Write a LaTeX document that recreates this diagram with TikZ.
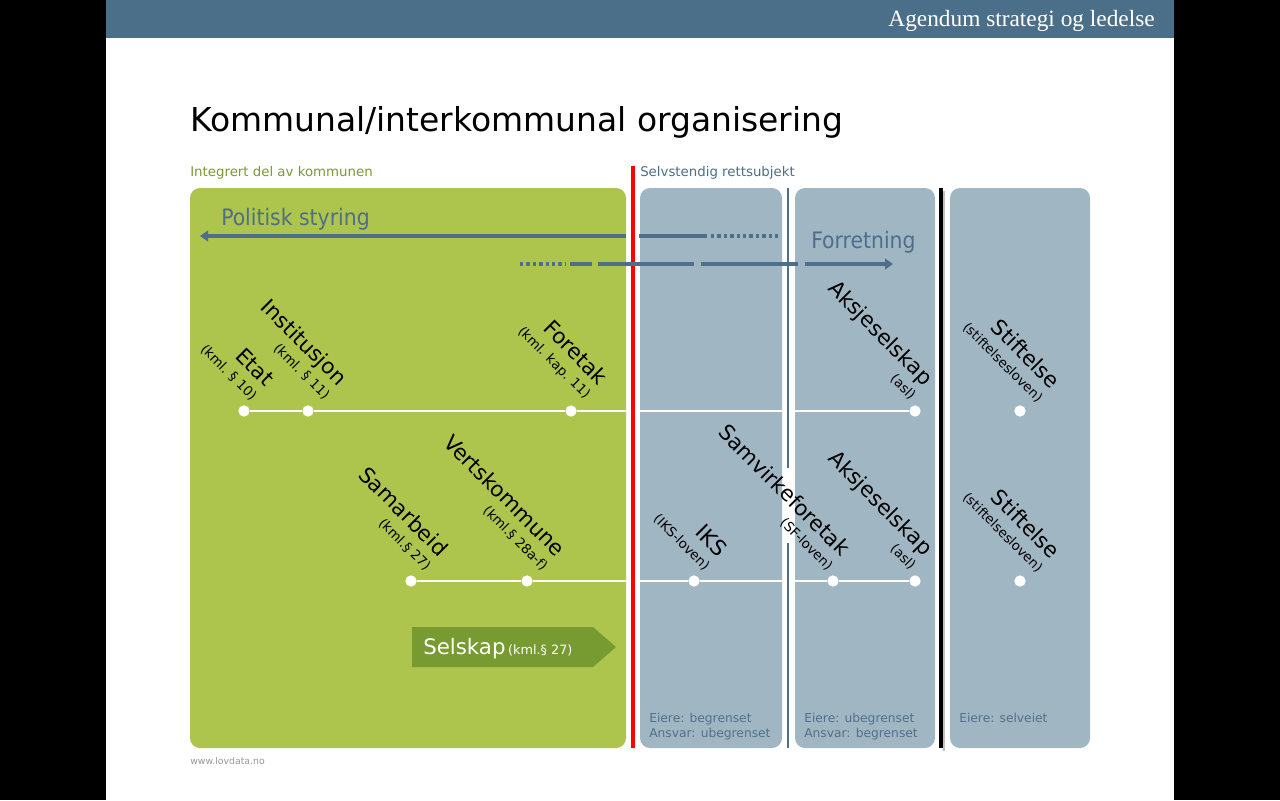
\documentclass[tikz,border=0pt]{standalone}
\usepackage{fontspec}
\setmainfont{DejaVu Sans}
\newfontfamily\condfont{DejaVu Sans Condensed}
\newfontfamily\headfont{Liberation Serif}
\usetikzlibrary{arrows.meta}

\definecolor{headblue}{HTML}{4B6F88}
\definecolor{flowblue}{HTML}{4E6E8A}
\definecolor{boxgreen}{HTML}{AEC54D}
\definecolor{selgreen}{HTML}{779A31}
\definecolor{boxgray}{HTML}{A1B6C3}
\definecolor{textgreen}{HTML}{7A9A34}
\definecolor{notegray}{HTML}{52708A}

\newcommand{\sublbl}{\fontsize{10}{12}\selectfont}

\begin{document}
\begin{tikzpicture}[x=0.75pt, y=-0.75pt,
  dot/.style={circle, fill=white, inner sep=0pt, minimum size=8.5pt},
  tline/.style={white, line width=1.1pt},
  lbl/.style={rotate=-45, anchor=south east, inner sep=0pt, align=right, font=\fontsize{16}{14.5}\selectfont},
  flow/.style={flowblue, line width=2.6pt, -{Triangle[length=6pt, width=8pt]}},
  flowline/.style={flowblue, line width=2.6pt},
  flowdot/.style={flowblue, line width=2.6pt, dash pattern=on 2.6pt off 2.2pt},
  panel/.style={rounded corners=7.5pt},
  note/.style={anchor=base west, inner sep=0pt, align=left, text=notegray, font=\fontsize{9.2}{11.2}\selectfont}]
%%%%%%%%%%%%%%%%%%%%%%%%%%%%%%%%%%%%%%%%%%% HELP LINES
%\draw[help lines] (0,0) grid[step=100] (1280,800);

%%%%%%%%%%%%%%%%%%%%%%%%%%%%%%%%%%%%%%%%%%% slide
\fill[black] (0,0) rectangle (1280,800);
\fill[white] (106,0) rectangle (1174,800);
\fill[headblue] (106,0) rectangle (1174,38);
\node[anchor=base east, inner sep=0pt, text=white, font=\headfont\fontsize{17.5}{20}\selectfont](agendum) at (1155,26){Agendum strategi og ledelse};

\node[anchor=base west, inner sep=0pt, font=\fontsize{24.7}{30}\selectfont](title) at (190,131){Kommunal/interkommunal organisering};
\node[anchor=base west, inner sep=0pt, text=textgreen, font=\fontsize{10}{12}\selectfont](integrert) at (190,176){Integrert del av kommunen};
\node[anchor=base west, inner sep=0pt, text=headblue, font=\fontsize{10}{12}\selectfont](selvstendig) at (640,176){Selvstendig rettsubjekt};
\node[anchor=base west, inner sep=0pt, text=black!40, font=\fontsize{7}{8}\selectfont](lovdata) at (190,764){www.lovdata.no};

%%%%%%%%%%%%%%%%%%%%%%%%%%%%%%%%%%%%%%%%%%% panels
\fill[boxgreen, panel] (190,188) rectangle (626,748);
\fill[boxgray, panel] (640,188) rectangle (782,748);
\fill[boxgray, panel] (795,188) rectangle (935,748);
\fill[boxgray, panel] (950,188) rectangle (1090,748);

%%%%% time lines and dots
\node[dot](etat) at (244,411){};
\node[dot](institusjon) at (308,411){};
\node[dot](foretak) at (571,411){};
\node[dot](asa1) at (915,411){};
\node[dot](stiftelse1) at (1020,411){};
\node[dot](samarbeid) at (411,581){};
\node[dot](vertskommune) at (527,581){};
\node[dot](iks) at (694,581){};
\node[dot](samvirke) at (833,581){};
\node[dot](asa2) at (915,581){};
\node[dot](stiftelse2) at (1020,581){};
\draw[tline] (etat) -- (institusjon) -- (foretak) -- (asa1);
\draw[tline] (samarbeid) -- (vertskommune) -- (iks) -- (samvirke) -- (asa2);

%%%%% borders
\draw[red, line width=2.6pt] (633,166) -- (633,748);
\draw[flowblue, line width=1.9pt] (788,188) -- (788,468);
\draw[flowblue, line width=1.9pt] (788,543) -- (788,748);
\draw[black!25, line width=2pt] (944,191) -- (944,751);
\draw[black, line width=3pt] (941,188) -- (941,748);

%%%%% steering arrows
\node[anchor=base west, inner sep=0pt, text=flowblue, font=\fontsize{17}{20}\condfont](politisk) at (221,225){Politisk styring};
\node[anchor=base west, inner sep=0pt, text=flowblue, font=\fontsize{17}{20}\condfont](forretning) at (811,248){Forretning};

\coordinate (polfrom) at (626,236);
\coordinate (polto) at (200,236);
\draw[flow] (polfrom) -- (polto);
\draw[flowline] (639,236) -- (707,236);
\draw[flowdot] (711,236) -- (778,236);

\coordinate (forfrom) at (805,264);
\coordinate (forto) at (893,264);
\draw[flowdot] (520,264) -- (565,264);
\draw[flowline] (570,264) -- (592,264);
\draw[flowline] (598,264) -- (694,264);
\draw[flowline] (701,264) -- (798,264);
\draw[flow] (forfrom) -- (forto);

%%%%% organisation forms
\node[lbl](etatlbl) at (250,403){Etat\\\sublbl (kml. § 10)};
\node[lbl](institusjonlbl) at (323,402){Institusjon\\\sublbl (kml. § 11)};
\node[lbl](foretaklbl) at (583,402){Foretak\\\sublbl (kml. kap. 11)};
\node[lbl](asa1lbl) at (909,402){Aksjeselskap\\\sublbl (asl)};
\node[lbl](stiftelse1lbl) at (1036,405){Stiftelse\\\sublbl (stiftelsesloven)};

\node[lbl](samarbeidlbl) at (424,573){Samarbeid\\\sublbl (kml.§ 27)};
\node[lbl](vertskommunelbl) at (541,573){Vertskommune\\\sublbl (kml.§ 28a-f)};
\node[lbl](ikslbl) at (703,573){IKS\\\sublbl (IKS-loven)};
\node[lbl](samvirkelbl) at (826,573){Samvirkeforetak\\\sublbl (SF-loven)};
\node[lbl](asa2lbl) at (909,572){Aksjeselskap\\\sublbl (asl)};
\node[lbl](stiftelse2lbl) at (1036,575){Stiftelse\\\sublbl (stiftelsesloven)};

%%%%% selskap
\fill[selgreen] (412,627) -- (593,627) -- (616,647) -- (593,667) -- (412,667) -- cycle;
\node[anchor=base west, inner sep=0pt, text=white](selskap) at (423,654){\fontsize{16}{18}\selectfont Selskap\hspace{2pt}\fontsize{9.6}{11}\selectfont(kml.§ 27)};

%%%%% owners and liability
\node[note](note1) at (649,737){Eiere: begrenset\\Ansvar: ubegrenset};
\node[note](note2) at (804,737){Eiere: ubegrenset\\Ansvar: begrenset};
\node[note](note3) at (959,722){Eiere: selveiet};
\end{tikzpicture}
\end{document}
